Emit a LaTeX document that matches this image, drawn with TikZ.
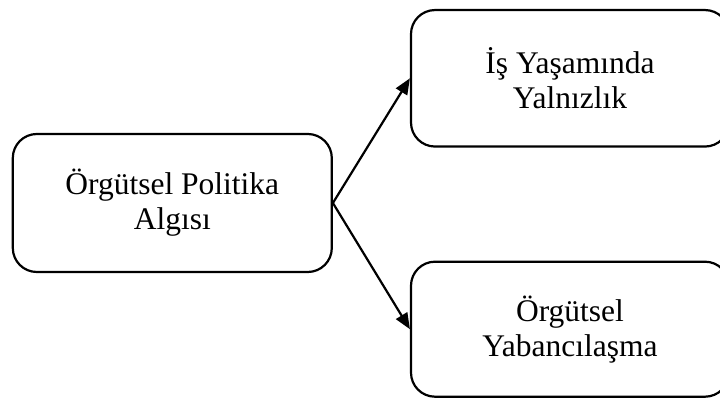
\documentclass[tikz,border=0pt]{standalone}
\usepackage{fontspec}
\setmainfont{Liberation Serif}
\usetikzlibrary{arrows.meta}
\tikzset{
  concept/.style={draw, line width=2.2pt, rounded corners=24pt, align=center,
    inner sep=0pt, font=\fontsize{31.5}{35}\selectfont},
  link/.style={line width=2.2pt, -{Triangle[length=16pt,width=13pt]}}
}
\begin{document}
\begin{tikzpicture}[x=1pt,y=1pt]
  \useasboundingbox (0,0) rectangle (720,399);
  \clip (0,0) rectangle (720,399);
  \node[concept, minimum width=319pt, minimum height=138pt] (algi) at (172.3,196)
    {Örgütsel Politika\\Algısı};
  \node[concept, minimum width=318pt, minimum height=136.5pt] (yalniz) at (570,320.7)
    {İş Yaşamında\\Yalnızlık};
  \node[concept, minimum width=318pt, minimum height=135pt] (yabanci) at (570,69.8)
    {Örgütsel\\Yabancılaşma};
  \draw[link] (algi.east) -- (yalniz.west);
  \draw[link] (algi.east) -- (yabanci.west);
\end{tikzpicture}
\end{document}
